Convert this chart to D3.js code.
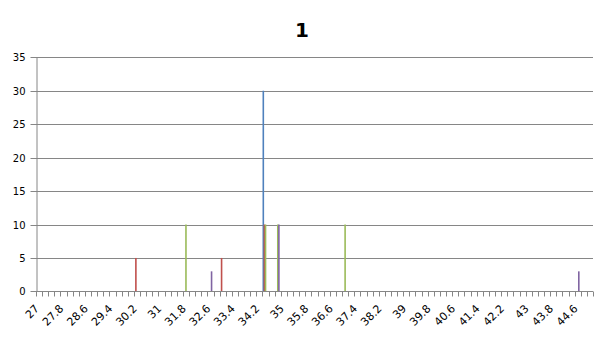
<!DOCTYPE html>
<html>
<head>
<meta charset="utf-8">
<script src="https://cdn.jsdelivr.net/npm/d3@7"></script>
<style>
  html, body { margin: 0; padding: 0; background: #fff; }
  svg { display: block; }
  text { font-family: "DejaVu Sans", Verdana, sans-serif; }
</style>
</head>
<body>
<svg id="chart" width="605" height="340"></svg>
<script>
// Categories (x values)
const categories = [
  "27","27.2","27.4","27.6","27.8","28","28.2","28.4","28.6","28.8",
  "29","29.2","29.4","29.6","29.8","30","30.2","30.4","30.6","30.8",
  "31","31.2","31.4","31.6","31.8","32","32.2","32.4","32.6","32.8",
  "33","33.2","33.4","33.6","33.8","34","34.2","34.4","34.6","34.8",
  "35","35.2","35.4","35.6","35.8","36","36.2","36.4","36.6","36.8",
  "37","37.2","37.4","37.6","37.8","38","38.2","38.4","38.6","38.8",
  "39","39.2","39.4","39.6","39.8","40","40.2","40.4","40.6","40.8",
  "41","41.2","41.4","41.6","41.8","42","42.2","42.4","42.6","42.8",
  "43","43.2","43.4","43.6","43.8","44","44.2","44.4","44.6","44.8",
  "45"
];
// Labelled categories (every 4th)
const tickLabels = ["27","27.8","28.6","29.4","30.2","31","31.8","32.6","33.4","34.2",
  "35","35.8","36.6","37.4","38.2","39","39.8","40.6","41.4","42.2","43","43.8","44.6"];
const yTicks = [0, 5, 10, 15, 20, 25, 30, 35];

// Series values (non-zero entries only, keyed by category)
const seriesNames = ["S1", "S2", "S3", "S4", "S5"];
const seriesColors = ["#4F81BD", "#C0504D", "#9BBB59", "#8064A2", "#4BACC6"];
const s1 = { "34.4": 30 };
const s2 = { "30.2": 5, "33": 5, "34.4": 10 };
const s3 = { "31.8": 10, "34.4": 10, "34.8": 10, "37": 10 };
const s4 = { "32.6": 3, "34.8": 10, "44.6": 3 };
const s5 = {};
const seriesValues = [s1, s2, s3, s4, s5];

const svg = d3.select("#chart");
const W = 605, H = 340;
const m = { left: 36, right: 12, top: 57.3, bottom: 48.6 };
const plotL = m.left, plotR = W - m.right, plotT = m.top, plotB = H - m.bottom;

const x0 = d3.scaleBand().domain(categories).range([plotL, plotR]).paddingInner(0).paddingOuter(0);
const x1 = d3.scaleBand().domain(seriesNames).range([0, x0.bandwidth()]).paddingInner(0).paddingOuter(0.25);
const y = d3.scaleLinear().domain([0, 35]).range([plotB, plotT]);

const gridColor = "#868686";

// Title
svg.append("text")
  .attr("x", 302).attr("y", 37)
  .attr("text-anchor", "middle")
  .attr("font-size", 20).attr("font-weight", "bold")
  .attr("fill", "#000")
  .text("1");

// Gridlines
svg.append("g").selectAll("line").data(yTicks.filter(d => d > 0)).join("line")
  .attr("x1", plotL).attr("x2", plotR)
  .attr("y1", d => Math.round(y(d)) + 0.5).attr("y2", d => Math.round(y(d)) + 0.5)
  .attr("stroke", gridColor).attr("stroke-width", 1);

// Y axis
const yAxis = d3.axisLeft(y).tickValues(yTicks).tickSize(6).tickPadding(5).tickSizeOuter(0);
const gy = svg.append("g").attr("transform", `translate(${plotL + 0.5},0)`).call(yAxis);
gy.select(".domain").attr("stroke", gridColor);
gy.selectAll(".tick line").attr("stroke", gridColor);
gy.selectAll(".tick").attr("transform", d => `translate(0,${Math.round(y(d)) + 0.5})`);
gy.selectAll(".tick text").attr("font-size", 10).attr("fill", "#000").attr("font-family", "DejaVu Sans, sans-serif");

// Bars
const data = [];
categories.forEach(c => {
  seriesNames.forEach((s, i) => {
    const v = seriesValues[i][c];
    if (v) data.push({ c, s, v, color: seriesColors[i] });
  });
});
const bw = Math.max(1.6, x1.bandwidth());
svg.append("g").selectAll("rect").data(data).join("rect")
  .attr("x", d => x0(d.c) + x1(d.s) + x1.bandwidth() / 2 - bw / 2)
  .attr("width", bw)
  .attr("y", d => y(d.v))
  .attr("height", d => y(0) - y(d.v))
  .attr("fill", d => d.color);

// X axis
const xb = Math.round(plotB) + 0.5;
const gx = svg.append("g");
gx.append("line")
  .attr("x1", plotL).attr("x2", plotR)
  .attr("y1", xb).attr("y2", xb)
  .attr("stroke", gridColor);
const boundaries = categories.map(c => x0(c)).concat([x0(categories[categories.length - 1]) + x0.bandwidth()]);
gx.selectAll("line.tk").data(boundaries).join("line").attr("class", "tk")
  .attr("x1", d => Math.round(d) + 0.5).attr("x2", d => Math.round(d) + 0.5)
  .attr("y1", xb).attr("y2", xb + 5)
  .attr("stroke", gridColor);
gx.selectAll("text").data(tickLabels).join("text")
  .attr("transform", d => `translate(${x0(d) + x0.bandwidth() / 2 - 2},${xb + 15}) rotate(-45)`)
  .attr("text-anchor", "end")
  .attr("dy", "0.35em")
  .attr("font-size", 11)
  .attr("fill", "#000")
  .text(d => d);
</script>
</body>
</html>
